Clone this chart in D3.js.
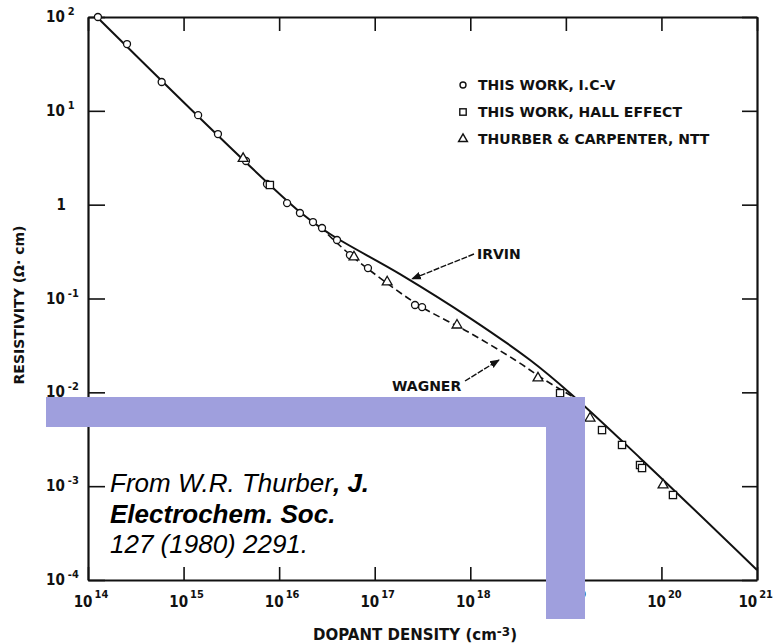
<!DOCTYPE html>
<html>
<head>
<meta charset="utf-8">
<script src="https://cdn.jsdelivr.net/npm/d3@7"></script>
<style>
  body { margin: 0; background: #fff; }
  svg { display: block; }
  .lbl { font-family: "DejaVu Sans Condensed", "Liberation Sans Narrow", sans-serif; font-weight: bold; fill: #111; }
  .txt { font-family: "DejaVu Sans", sans-serif; font-weight: bold; fill: #111; }
  .cite { font-family: "Liberation Sans", Arial, sans-serif; font-style: italic; fill: #000; }
</style>
</head>
<body>
<div id="chart"></div>
<script>
// ticks (decades)
const xExp = [14, 15, 16, 17, 18, 19, 20, 21];
const yExp = [2, 1, 0, -1, -2, -3, -4];

// THIS WORK, I.C-V (circles)
const icvN   = [1.27e14, 2.56e14, 5.9e14, 1.42e15, 2.29e15, 4.5e15, 7.46e15, 1.21e16, 1.65e16, 2.26e16, 2.81e16, 4.03e16, 5.5e16, 8.5e16, 2.64e17, 3.13e17];
const icvRho = [100, 51.5, 20.3, 9.0, 5.66, 2.92, 1.66, 1.04, 0.815, 0.653, 0.564, 0.42, 0.29, 0.211, 0.0853, 0.081];

// THIS WORK, HALL EFFECT (squares)
const hallN   = [8.0e15, 8.7e18, 2.39e19, 3.87e19, 5.97e19, 6.27e19, 1.32e20];
const hallRho = [1.62, 9.8e-3, 3.96e-3, 2.75e-3, 1.68e-3, 1.56e-3, 8.05e-4];

// THURBER & CARPENTER, NTT (triangles)
const tcN   = [4.2e15, 6.07e16, 1.35e17, 7.26e17, 5.11e18, 1.79e19, 1.04e20];
const tcRho = [3.1, 0.277, 0.150, 0.052, 0.0142, 5.3e-3, 1.03e-3];

// Irvin curve (solid)
const irvinN   = [1.24e14, 1.65e16, 3.41e16, 1.84e17, 9.93e17, 4.22e18, 1.1e19, 5.97e19, 1e21];
const irvinRho = [100, 0.835, 0.487, 0.182, 0.0619, 0.0221, 9.85e-3, 2.0e-3, 1.28e-4];

// Wagner curve (dashed)
const wagnerN   = [2.68e16, 5.13e16, 1.14e17, 2.98e17, 9.93e17, 2.94e18, 6.05e18, 1.25e19];
const wagnerRho = [0.578, 0.313, 0.165, 0.0832, 0.0429, 0.0221, 0.0135, 8.7e-3];

const legendItems = ["THIS WORK, I.C-V", "THIS WORK, HALL EFFECT", "THURBER & CARPENTER, NTT"];

const width = 774, height = 644;
const mLeft = 88, mRight = 757, mTop = 17, mBottom = 580;

const svg = d3.select("#chart").append("svg")
    .attr("width", width)
    .attr("height", height);

const x = d3.scaleLog().domain([1e14, 1e21]).range([mLeft, mRight]);
const y = d3.scaleLog().domain([1e-4, 1e2]).range([mBottom, mTop]);

const xTicks = xExp.map(e => Math.pow(10, e));
const yTicks = yExp.map(e => Math.pow(10, e));

// axes, ticks point inward on every side
function frame(axis, tr) {
    const g = svg.append("g").attr("transform", tr).call(axis);
    g.select(".domain").attr("stroke", "#111").attr("stroke-width", 2.2);
    g.selectAll(".tick line").attr("stroke", "#111").attr("stroke-width", 1.6);
    g.selectAll(".tick text").remove();
    return g;
}
frame(d3.axisBottom(x).tickValues(xTicks).tickSizeInner(-13).tickSizeOuter(0), `translate(0,${mBottom})`);
frame(d3.axisTop(x).tickValues(xTicks).tickSizeInner(-14).tickSizeOuter(0), `translate(0,${mTop})`);
frame(d3.axisLeft(y).tickValues(yTicks).tickSizeInner(-17).tickSizeOuter(0), `translate(${mLeft},0)`);
frame(d3.axisRight(y).tickValues(yTicks).tickSizeInner(-15).tickSizeOuter(0), `translate(${mRight},0)`);

// x tick labels
xExp.forEach((e, i) => {
    const last = i === xExp.length - 1;
    const t = svg.append("text").attr("class", "lbl")
        .attr("x", last ? 773 : x(Math.pow(10, e)) + 3).attr("y", 607)
        .attr("text-anchor", last ? "end" : "middle").style("font-size", "15px");
    t.append("tspan").text("10");
    t.append("tspan").attr("dx", 2).attr("dy", -9).style("font-size", "11px").text(e);
});

// y tick labels
yExp.forEach(e => {
    const yy = y(Math.pow(10, e)) + 5;
    if (e === 0) {
        svg.append("text").attr("class", "lbl").attr("x", 66).attr("y", yy)
            .attr("text-anchor", "end").style("font-size", "15px").text("1");
        return;
    }
    const t = svg.append("text").attr("class", "lbl")
        .attr("x", 46).attr("y", yy).style("font-size", "15px");
    t.append("tspan").text("10");
    t.append("tspan").attr("dx", 3).attr("dy", -7).style("font-size", "11px").text(e);
});

// axis titles
const xt = svg.append("text").attr("class", "txt")
    .attr("x", 415).attr("y", 640).attr("text-anchor", "middle")
    .style("font-size", "15px");
xt.append("tspan").text("DOPANT DENSITY (cm");
xt.append("tspan").attr("dy", -4).style("font-size", "12px").text("-3");
xt.append("tspan").attr("dy", 4).text(")");

svg.append("text").attr("class", "txt")
    .attr("transform", "translate(24,305) rotate(-90)")
    .attr("text-anchor", "middle").style("font-size", "14px")
    .text("RESISTIVITY (\u03A9\u00B7 cm)");

// curves
const line = d3.line().x(d => x(d[0])).y(d => y(d[1])).curve(d3.curveCatmullRom.alpha(0.5));

svg.append("path")
    .datum(irvinN.map((n, i) => [n, irvinRho[i]]))
    .attr("d", line).attr("fill", "none")
    .attr("stroke", "#111").attr("stroke-width", 2);

svg.append("path")
    .datum(wagnerN.map((n, i) => [n, wagnerRho[i]]))
    .attr("d", line).attr("fill", "none")
    .attr("stroke", "#111").attr("stroke-width", 1.6)
    .attr("stroke-dasharray", "7,4");

// markers
function circles(ns, rs) {
    svg.append("g").selectAll("circle").data(ns).join("circle")
        .attr("cx", d => x(d)).attr("cy", (d, i) => y(rs[i])).attr("r", 3.5)
        .attr("fill", "#fff").attr("stroke", "#111").attr("stroke-width", 1.3);
}
function squares(ns, rs) {
    svg.append("g").selectAll("rect").data(ns).join("rect")
        .attr("x", d => x(d) - 3.6).attr("y", (d, i) => y(rs[i]) - 3.6)
        .attr("width", 7.2).attr("height", 7.2)
        .attr("fill", "#fff").attr("stroke", "#111").attr("stroke-width", 1.3);
}
const tri = d3.symbol().type(d3.symbolTriangle).size(42);
function triangles(ns, rs) {
    svg.append("g").selectAll("path").data(ns).join("path")
        .attr("d", tri)
        .attr("transform", (d, i) => `translate(${x(d)},${y(rs[i])})`)
        .attr("fill", "#fff").attr("stroke", "#111").attr("stroke-width", 1.3);
}
circles(icvN, icvRho);
squares(hallN, hallRho);
triangles(tcN, tcRho);

// legend
const lg = svg.append("g").attr("transform", "translate(463,85)");
lg.append("circle").attr("cx", 0).attr("cy", 0).attr("r", 3)
    .attr("fill", "#fff").attr("stroke", "#111").attr("stroke-width", 1.4);
lg.append("rect").attr("x", -3.2).attr("y", 27 - 3.2).attr("width", 6.4).attr("height", 6.4)
    .attr("fill", "#fff").attr("stroke", "#111").attr("stroke-width", 1.4);
lg.append("path").attr("d", d3.symbol().type(d3.symbolTriangle).size(34))
    .attr("transform", "translate(0,54)")
    .attr("fill", "#fff").attr("stroke", "#111").attr("stroke-width", 1.4);
legendItems.forEach((s, i) => {
    lg.append("text").attr("class", "txt")
        .attr("x", 15).attr("y", i * 27 + 5).style("font-size", "14px").text(s);
});

// curve labels with arrows
svg.append("defs").append("marker")
    .attr("id", "arr").attr("viewBox", "0 0 10 10").attr("refX", 9).attr("refY", 5)
    .attr("markerWidth", 7).attr("markerHeight", 7).attr("orient", "auto")
    .append("path").attr("d", "M0,1L10,5L0,9Z").attr("fill", "#111");

svg.append("line").attr("x1", 474).attr("y1", 254).attr("x2", 412).attr("y2", 279)
    .attr("stroke", "#111").attr("stroke-width", 1.4).attr("stroke-dasharray", "6,1.5")
    .attr("marker-end", "url(#arr)");
svg.append("text").attr("class", "txt").attr("x", 477).attr("y", 259)
    .style("font-size", "14px").text("IRVIN");

svg.append("line").attr("x1", 465).attr("y1", 381).attr("x2", 499).attr("y2", 360)
    .attr("stroke", "#111").attr("stroke-width", 1.4).attr("stroke-dasharray", "6,1.5")
    .attr("marker-end", "url(#arr)");
svg.append("text").attr("class", "txt").attr("x", 392).attr("y", 391)
    .style("font-size", "14px").text("WAGNER");

// overlay bands
svg.append("rect").attr("x", 46).attr("y", 397).attr("width", 539).attr("height", 30).attr("fill", "#9f9fdd");
svg.append("rect").attr("x", 546).attr("y", 397).attr("width", 39).attr("height", 222).attr("fill", "#9f9fdd");

// citation
const cite = svg.append("text").attr("class", "cite").style("font-size", "26px");
cite.append("tspan").attr("x", 110).attr("y", 492).text("From W.R. Thurber");
cite.append("tspan").style("font-weight", "bold").text(", J.");
cite.append("tspan").attr("x", 110).attr("y", 523).style("font-weight", "bold").text("Electrochem. Soc.");
cite.append("tspan").attr("x", 110).attr("y", 553).text("127 (1980) 2291.");
</script>
</body>
</html>
